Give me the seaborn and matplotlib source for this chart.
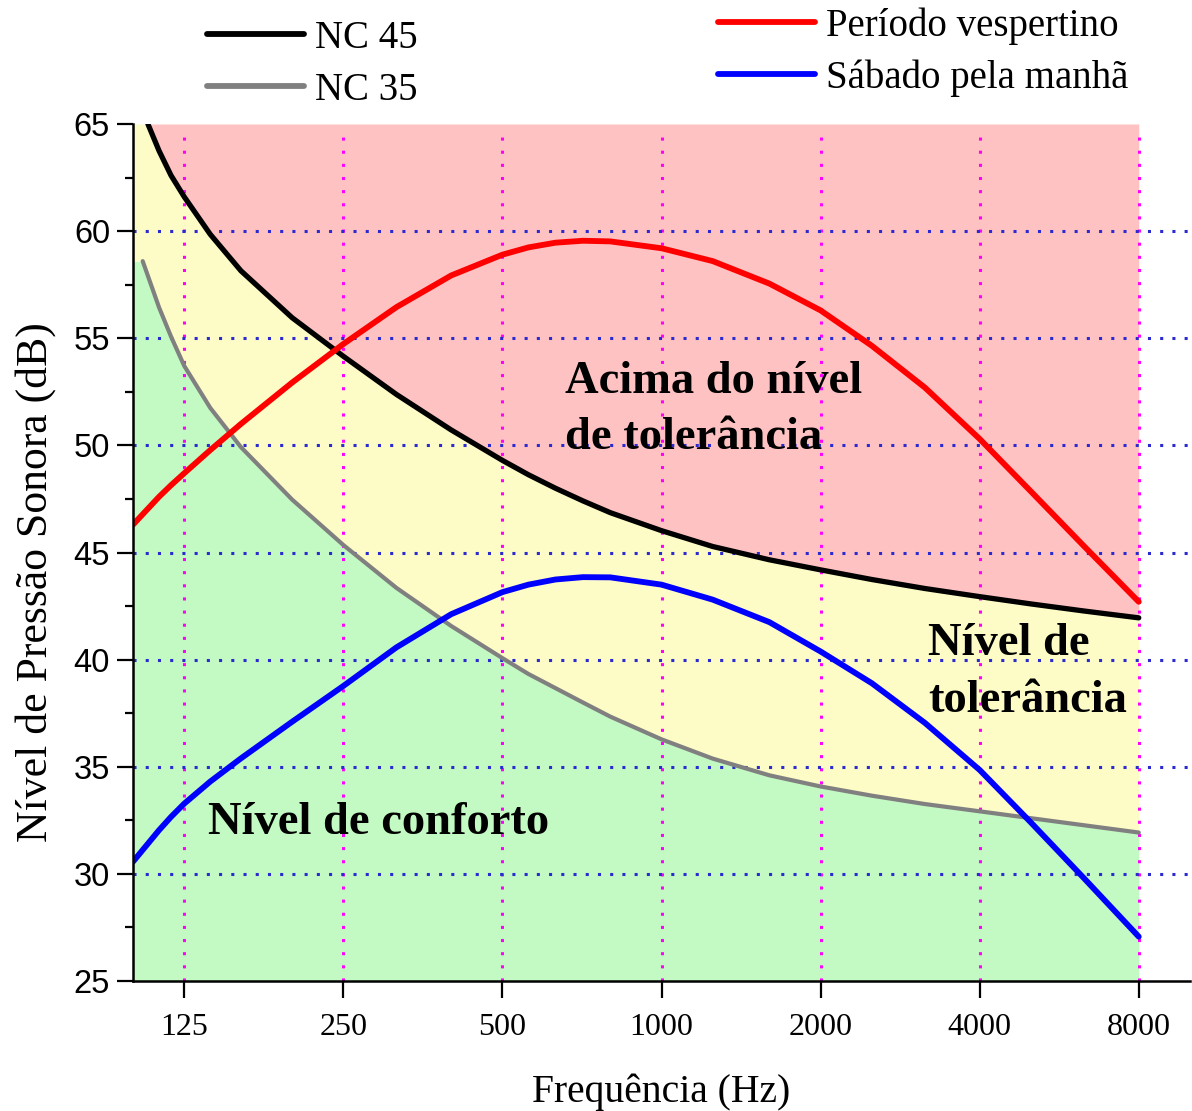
import matplotlib
matplotlib.use("Agg")
import matplotlib.pyplot as plt
import seaborn as sns
import pandas as pd
from matplotlib.ticker import FixedLocator, NullLocator, MultipleLocator

# frequencies (Hz) at which the curves were read
freq = [100, 112, 118, 125, 140, 160, 200, 250, 315, 400, 500, 560, 630, 710, 800, 1000,
        1250, 1600, 2000, 2500, 3150, 4000, 5000, 6300, 8000]

nc45_freq = [106.7] + freq[1:]
nc45 = [65.0, 63.75, 62.6, 61.6, 59.85, 58.15, 55.96, 54.16, 52.38, 50.72, 49.3, 48.63, 48.0,
        47.41, 46.86, 46.02, 45.28, 44.66, 44.19, 43.74, 43.32, 42.94, 42.6, 42.27, 41.95]

nc35_freq = [104.3] + freq[1:]
nc35 = [58.6, 56.44, 55.08, 53.71, 51.75, 49.92, 47.47, 45.35, 43.35, 41.57, 40.07, 39.33,
        38.67, 38.0, 37.34, 36.28, 35.38, 34.6, 34.08, 33.65, 33.26, 32.92, 32.6, 32.27, 31.93]

vespertino = [46.3, 47.6, 48.14, 48.7, 49.78, 51.0, 52.93, 54.73, 56.45, 57.93, 58.9, 59.24,
              59.46, 59.55, 59.52, 59.2, 58.6, 57.55, 56.3, 54.65, 52.7, 50.3, 47.85, 45.3, 42.7]

sabado = [30.57, 32.04, 32.66, 33.28, 34.31, 35.39, 37.1, 38.77, 40.57, 42.12, 43.15, 43.5,
          43.74, 43.85, 43.84, 43.5, 42.8, 41.75, 40.38, 38.9, 37.05, 34.85, 32.4, 29.8, 27.07]

xticks = [125, 250, 500, 1000, 2000, 4000, 8000]
yticks = [25, 30, 35, 40, 45, 50, 55, 60, 65]

sns.set_style("ticks")
plt.rcParams["font.family"] = ["Liberation Serif", "DejaVu Serif"]
plt.rcParams["text.color"] = "black"
plt.rcParams["axes.labelcolor"] = "black"
plt.rcParams["xtick.color"] = "black"
plt.rcParams["ytick.color"] = "black"

fig = plt.figure(figsize=(11.92, 11.11), dpi=100)
ax = fig.add_axes([0.1116, 0.117, 0.8867, 0.7714])

ymin, ymax = yticks[0], yticks[-1]

# coloured zones (boundaries extended flat to the left edge)
f35 = [freq[0]] + nc35_freq
b35 = [nc35[0]] + nc35
f45 = [freq[0]] + nc45_freq
b45 = [nc45[0]] + nc45
ax.fill_between(f35, ymin, b35, color="#c3fac3", lw=0, zorder=0.5)
ax.fill_between(f45, b45, ymax, color="#ffc2c2", lw=0, zorder=0.5)
# yellow band between NC 35 and NC 45 on a common grid
s35 = pd.Series(b35, index=f35)
s45 = pd.Series(b45, index=f45)
common = sorted(set(f35) | set(f45))
lo = s35.reindex(common).interpolate(method="index").bfill()
hi = s45.reindex(common).interpolate(method="index").bfill()
ax.fill_between(common, lo.values, hi.values, color="#fdfbc6", lw=0, zorder=0.5)

# dotted grid
for x in xticks:
    ax.axvline(x, ymax=0.985, color="#ff00ff", lw=2.2, linestyle=(0, (1, 3.3)), zorder=1)
for y in yticks[1:-1]:
    ax.axhline(y, color="#2a2ad0", lw=2.2, linestyle=(0, (1, 3.0)), zorder=1)

df_nc35 = pd.DataFrame({"Hz": nc35_freq, "dB": nc35})
df_nc45 = pd.DataFrame({"Hz": nc45_freq, "dB": nc45})
df_v = pd.DataFrame({"Hz": freq, "dB": vespertino})
df_s = pd.DataFrame({"Hz": freq, "dB": sabado})

sns.lineplot(data=df_nc35, x="Hz", y="dB", color="#808080", lw=3.0, ax=ax, label="NC 35", zorder=3)
sns.lineplot(data=df_nc45, x="Hz", y="dB", color="black", lw=3.8, ax=ax, label="NC 45", zorder=3)
sns.lineplot(data=df_v, x="Hz", y="dB", color="#ff0000", lw=4.2, ax=ax, label="Período vespertino", zorder=4)
sns.lineplot(data=df_s, x="Hz", y="dB", color="#0000ff", lw=4.2, ax=ax, label="Sábado pela manhã", zorder=4)
for ln in ax.get_lines()[-4:]:
    ln.set_solid_joinstyle("round")
    ln.set_solid_capstyle("round")

ax.set_xscale("log", base=2)
ax.set_xlim(100, 10000)
ax.set_ylim(ymin, ymax)
ax.xaxis.set_major_locator(FixedLocator(xticks))
ax.xaxis.set_minor_locator(NullLocator())
ax.set_xticklabels([str(t) for t in xticks], fontsize=23)
ax.set_yticks(yticks)
ax.yaxis.set_minor_locator(MultipleLocator(2.5))
ax.set_yticklabels([str(t) for t in yticks], fontsize=23.5, family="Liberation Sans")
ax.tick_params(axis="x", which="major", length=12, width=1.6, pad=11)
ax.tick_params(axis="y", which="major", length=11.5, width=1.6, pad=5)
ax.tick_params(axis="y", which="minor", length=6, width=1.6)

for s in ["top", "right"]:
    ax.spines[s].set_visible(False)
for s in ["left", "bottom"]:
    ax.spines[s].set_linewidth(1.8)
    ax.spines[s].set_color("black")
    ax.spines[s].set_zorder(5)

ax.set_xlabel("Frequência (Hz)", fontsize=28.5)
ax.set_ylabel("Nível de Pressão Sonora (dB)", fontsize=31.5)
ax.xaxis.set_label_coords(0.5, -0.108)
ax.yaxis.set_label_coords(-0.073, 0.466)

# zone labels
ax.text(0.409, 0.6665, "Acima do nível\nde tolerância", transform=ax.transAxes,
        fontsize=33.5, fontweight="bold", ha="left", va="center", linespacing=1.45, zorder=6)
ax.text(0.752, 0.360, "Nível de\ntolerância", transform=ax.transAxes,
        fontsize=33.5, fontweight="bold", ha="left", va="center", linespacing=1.45, zorder=6)
ax.text(0.071, 0.1845, "Nível de conforto", transform=ax.transAxes,
        fontsize=33.5, fontweight="bold", ha="left", va="center", zorder=6)

# two legends above the plot
handles, labels = ax.get_legend_handles_labels()
h = dict(zip(labels, handles))
ax.legend().remove()
leg_kw = dict(loc="center left", frameon=False, fontsize=28, handlelength=2.5,
              handletextpad=0.28, labelspacing=0.38, borderpad=0, borderaxespad=0)
leg1 = fig.legend([h["NC 45"], h["NC 35"]], ["NC 45", "NC 35"],
                  bbox_to_anchor=(0.1737, 0.9420), **leg_kw)
leg2 = fig.legend([h["Período vespertino"], h["Sábado pela manhã"]],
                  ["Período vespertino", "Sábado pela manhã"],
                  bbox_to_anchor=(0.6023, 0.9530), **leg_kw)
for lg in (leg1, leg2):
    for ln in lg.get_lines():
        ln.set_linewidth(4.2)
        ln.set_solid_capstyle("round")

fig.savefig("out.png", dpi=100)
